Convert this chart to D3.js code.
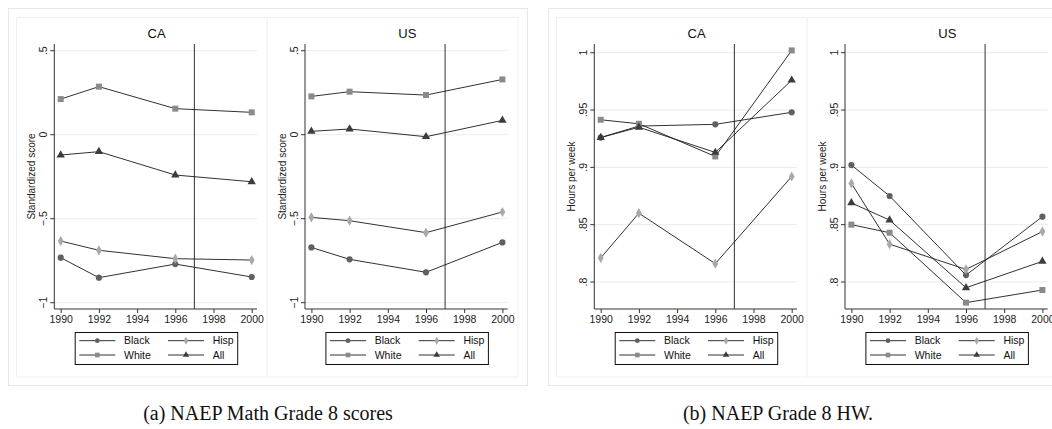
<!DOCTYPE html>
<html><head><meta charset="utf-8">
<script src="https://cdn.jsdelivr.net/npm/d3@7"></script>
<style>body{margin:0;background:#fff}svg{display:block}</style>
</head><body>
<svg id="c" width="1052" height="429"></svg>
<script>
const years = [1990, 1992, 1996, 2000];
const xTicks = [1990, 1992, 1994, 1996, 1998, 2000];
const groups = ["Black", "Hisp", "White", "All"];
const panelTitles = ["CA", "US"];
const captions = ["(a) NAEP Math Grade 8 scores", "(b) NAEP Grade 8 HW."];
const yLabels = ["Standardized score", "Hours per week"];
const policyYear = 1997;

// (a) math scores
const mathCABlack = [-0.732, -0.851, -0.770, -0.847];
const mathCAHisp  = [-0.633, -0.688, -0.738, -0.746];
const mathCAWhite = [0.212, 0.286, 0.155, 0.133];
const mathCAAll   = [-0.121, -0.101, -0.240, -0.280];
const mathUSBlack = [-0.671, -0.742, -0.819, -0.641];
const mathUSHisp  = [-0.492, -0.512, -0.583, -0.460];
const mathUSWhite = [0.228, 0.256, 0.236, 0.329];
const mathUSAll   = [0.020, 0.034, -0.012, 0.085];
const mathTicks = [0.5, 0, -0.5, -1];
const mathTickLabels = [".5", "0", "\u2212.5", "\u22121"];

// (b) homework hours
const hwCABlack = [0.926, 0.936, 0.9375, 0.948];
const hwCAHisp  = [0.821, 0.860, 0.816, 0.892];
const hwCAWhite = [0.9415, 0.938, 0.9095, 1.002];
const hwCAAll   = [0.926, 0.935, 0.913, 0.976];
const hwUSBlack = [0.902, 0.875, 0.806, 0.857];
const hwUSHisp  = [0.886, 0.833, 0.811, 0.844];
const hwUSWhite = [0.850, 0.843, 0.782, 0.793];
const hwUSAll   = [0.869, 0.854, 0.795, 0.818];
const hwTicks = [1, 0.95, 0.9, 0.85, 0.8];
const hwTickLabels = ["1", ".95", ".9", ".85", ".8"];

const markerColors = {Black: "#606060", Hisp: "#a9a9a9", White: "#8a8a8a", All: "#3c3c3c"};
const markerShapes = {Black: d3.symbolCircle, Hisp: d3.symbolDiamond, White: d3.symbolSquare, All: d3.symbolTriangle};
const markerSizes = {Black: 30, Hisp: 30, White: 36, All: 30};

const svg = d3.select("#c");
const sans = "Liberation Sans, Arial, sans-serif";

const figures = [
  {x0: 8, caption: captions[0], capX: 268, ticks: mathTicks, tickLabels: mathTickLabels,
   yDomain: [-1, 0.5], yRange: [302.7, 50.7], yLabel: yLabels[0],
   panels: [
     {title: "CA", data: {Black: mathCABlack, Hisp: mathCAHisp, White: mathCAWhite, All: mathCAAll}},
     {title: "US", data: {Black: mathUSBlack, Hisp: mathUSHisp, White: mathUSWhite, All: mathUSAll}}]},
  {x0: 548, caption: captions[1], capX: 778, ticks: hwTicks, tickLabels: hwTickLabels,
   yDomain: [0.8, 1], yRange: [282, 52.7], yLabel: yLabels[1],
   panels: [
     {title: "CA", data: {Black: hwCABlack, Hisp: hwCAHisp, White: hwCAWhite, All: hwCAAll}},
     {title: "US", data: {Black: hwUSBlack, Hisp: hwUSHisp, White: hwUSWhite, All: hwUSAll}}]}
];

const panelW = 250.7, plotTop = 44, plotBot = 309;

figures.forEach(fig => {
  // outer frame
  svg.append("rect").attr("x", fig.x0 + 0.5).attr("y", 8.5).attr("width", 519).attr("height", 377)
    .attr("fill", "#fff").attr("stroke", "#e2e8ee").attr("stroke-width", 1);
  fig.panels.forEach((p, i) => {
    const px0 = fig.x0 + 8 + i * panelW;
    svg.append("rect").attr("x", px0 + 0.5).attr("y", 17.5).attr("width", panelW).attr("height", 359.5)
      .attr("fill", "#fff").attr("stroke", "#eef1f4").attr("stroke-width", 1);
    const x = d3.scaleLinear().domain([1990, 2000]).range([px0 + 44.7, px0 + 235.7]);
    const y = d3.scaleLinear().domain(fig.yDomain).range(fig.yRange);
    const axX = px0 + 38.3, right = px0 + 241;
    const g = svg.append("g");
    // gridlines
    g.selectAll(".grid").data(fig.ticks).join("line")
      .attr("x1", axX).attr("x2", right).attr("y1", d => y(d)).attr("y2", d => y(d))
      .attr("stroke", "#ebebeb").attr("stroke-width", 1);
    // y axis
    const yAxis = d3.axisLeft(y).tickValues(fig.ticks).tickSize(4)
      .tickFormat((d, k) => fig.tickLabels[k]);
    const ya = g.append("g").attr("transform", `translate(${axX},0)`).call(yAxis);
    ya.select(".domain").remove();
    ya.selectAll("line").attr("stroke", "#333");
    ya.selectAll("text").attr("font-family", sans).attr("font-size", 10.5).attr("fill", "#222")
      .attr("transform", d => `rotate(-90,${-11},${y(d)})`)
      .attr("x", -11).attr("dy", "0").attr("y", d => y(d) + 0 - y(d))
      .attr("text-anchor", "middle");
    ya.selectAll(".tick").attr("transform", null);
    ya.selectAll(".tick line").attr("y1", d => y(d)).attr("y2", d => y(d)).attr("x2", -4);
    ya.selectAll(".tick text").attr("y", d => y(d)).attr("transform", d => `rotate(-90,-11,${y(d)})`)
      .attr("x", -11).attr("dy", "0.35em");
    g.append("line").attr("x1", axX).attr("x2", axX).attr("y1", plotTop).attr("y2", plotBot)
      .attr("stroke", "#333").attr("stroke-width", 1);
    // x axis
    const xAxis = d3.axisBottom(x).tickValues(xTicks).tickSize(4).tickFormat(d3.format("d"));
    const xa = g.append("g").attr("transform", `translate(0,${plotBot})`).call(xAxis);
    xa.select(".domain").remove();
    xa.selectAll("line").attr("stroke", "#333");
    xa.selectAll("text").attr("font-family", sans).attr("font-size", 10.5).attr("fill", "#222").attr("dy", "0.62em");
    g.append("line").attr("x1", axX).attr("x2", right).attr("y1", plotBot).attr("y2", plotBot)
      .attr("stroke", "#333").attr("stroke-width", 1);
    // y label
    g.append("text").attr("transform", `translate(${px0 + 15.7},${(plotTop + plotBot) / 2}) rotate(-90)`)
      .attr("text-anchor", "middle").attr("dy", "0.35em")
      .attr("font-family", sans).attr("font-size", 10).attr("fill", "#222").text(fig.yLabel);
    // title
    g.append("text").attr("x", (axX + right) / 2 + 1).attr("y", 38)
      .attr("text-anchor", "middle").attr("font-family", sans).attr("font-size", 13).attr("fill", "#111")
      .text(p.title);
    // policy line
    g.append("line").attr("x1", x(policyYear)).attr("x2", x(policyYear)).attr("y1", plotTop).attr("y2", plotBot)
      .attr("stroke", "#444").attr("stroke-width", 1.1);
    // series
    const line = d3.line().x((d, k) => x(years[k])).y(d => y(d));
    groups.forEach(gr => {
      g.append("path").datum(p.data[gr]).attr("d", line).attr("fill", "none")
        .attr("stroke", "#1a1a1a").attr("stroke-width", 0.9);
    });
    groups.forEach(gr => {
      g.selectAll(null).data(p.data[gr]).join("path")
        .attr("transform", (d, k) => `translate(${x(years[k])},${y(d)})`)
        .attr("d", d3.symbol().type(markerShapes[gr]).size(markerSizes[gr]))
        .attr("fill", markerColors[gr]);
    });
    // legend
    const lx = px0 + 58.7, ly = 332;
    g.append("rect").attr("x", lx + 0.5).attr("y", ly + 0.5).attr("width", 162.5).attr("height", 32)
      .attr("fill", "#fff").attr("stroke", "#111").attr("stroke-width", 1);
    const cols = [px0 + 63.3, px0 + 152];
    const rows = [340.7, 355];
    const order = ["Black", "Hisp", "White", "All"];
    order.forEach((gr, k) => {
      const cx = cols[k % 2], cy = rows[Math.floor(k / 2)];
      g.append("line").attr("x1", cx).attr("x2", cx + 36).attr("y1", cy).attr("y2", cy)
        .attr("stroke", "#1a1a1a").attr("stroke-width", 0.9);
      g.append("path").attr("transform", `translate(${cx + 18},${cy})`)
        .attr("d", d3.symbol().type(markerShapes[gr]).size(markerSizes[gr] * 0.6))
        .attr("fill", markerColors[gr]);
      g.append("text").attr("x", cx + 44.7).attr("y", cy).attr("dy", "0.35em")
        .attr("font-family", sans).attr("font-size", 10.5).attr("fill", "#111").text(gr);
    });
  });
  svg.append("text").attr("x", fig.capX).attr("y", 420).attr("text-anchor", "middle")
    .attr("font-family", "Liberation Serif, Times New Roman, serif").attr("font-size", 20)
    .attr("fill", "#111").text(fig.caption);
});
</script>
</body></html>
